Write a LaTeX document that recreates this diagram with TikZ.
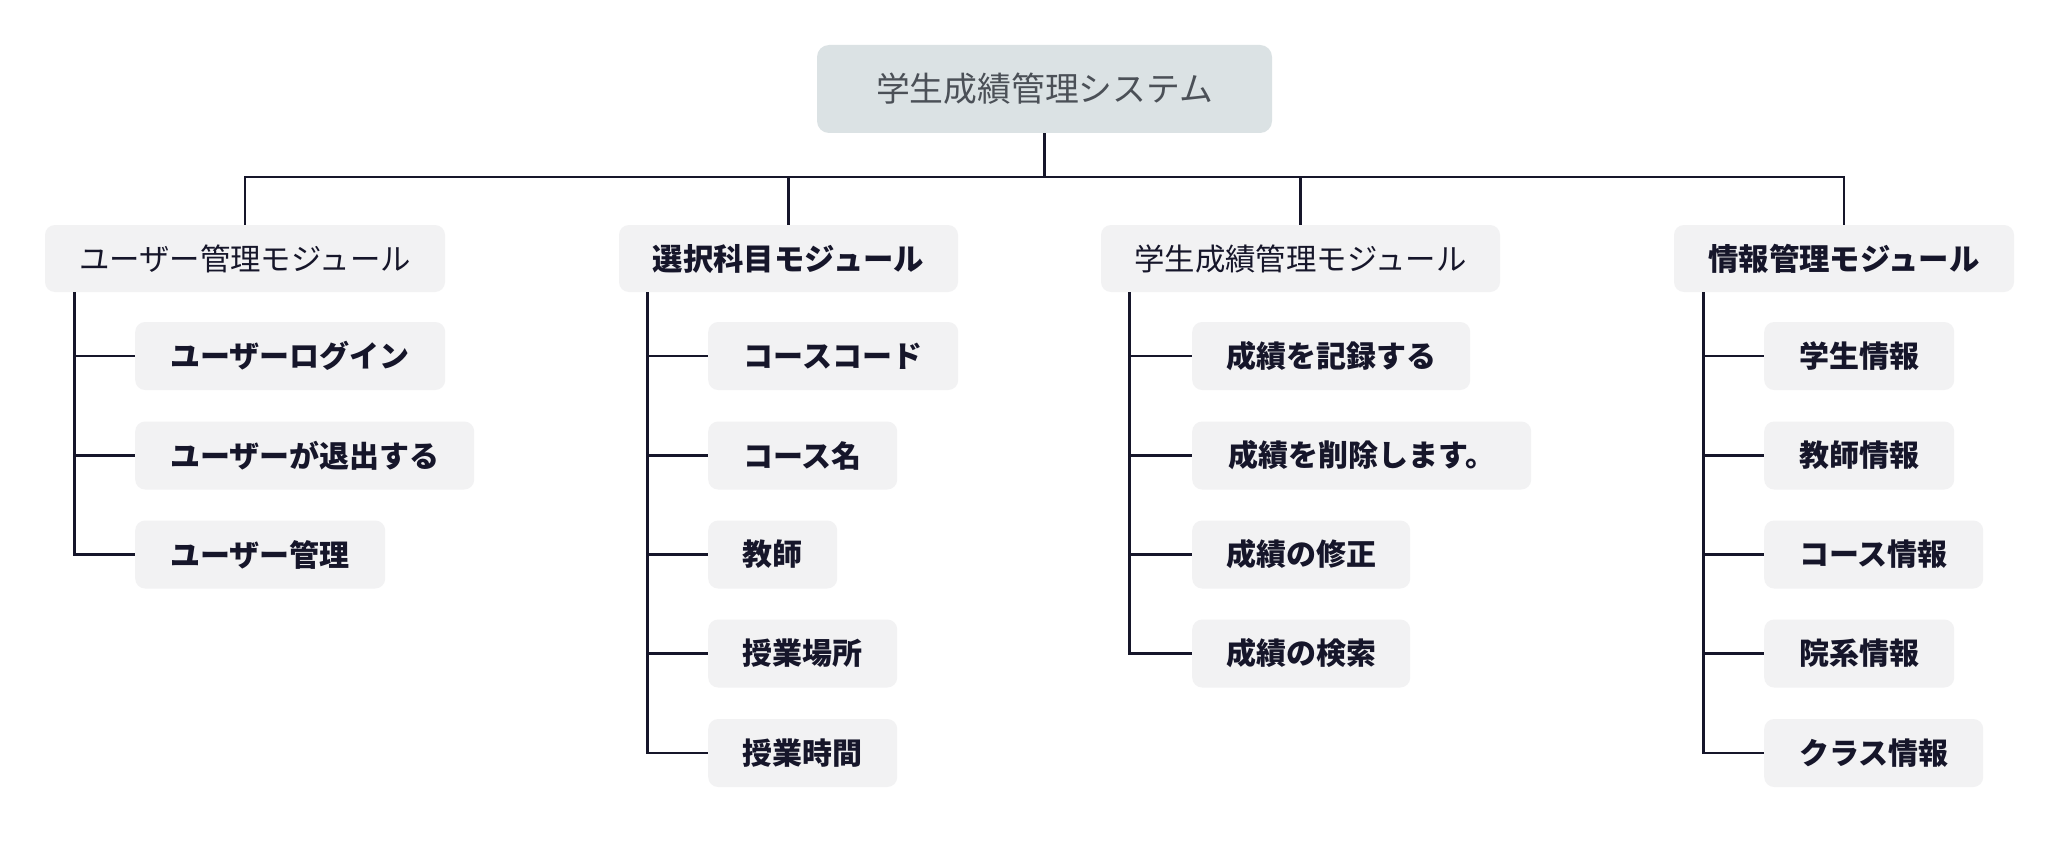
\documentclass[tikz,border=0pt]{standalone}
\usepackage{fontspec}
\setmainfont{Noto Sans CJK JP}
\definecolor{rootfill}{HTML}{DBE2E4}
\definecolor{roottext}{HTML}{4B5057}
\definecolor{boxfill}{HTML}{F2F2F3}
\definecolor{ink}{HTML}{16162A}
\tikzset{
  rootbox/.style={fill=rootfill, text=roottext, rounded corners=12pt, minimum width=455pt, minimum height=88pt, inner sep=0pt, font=\fontsize{33.8}{33.8}\selectfont},
  modbox/.style={fill=boxfill, text=ink, rounded corners=10pt, minimum height=67pt, inner sep=0pt, font=\fontsize{30.4}{30.4}\selectfont},
  modbold/.style={modbox, font=\bfseries\fontsize{30.4}{30.4}\selectfont},
  leafbox/.style={fill=boxfill, text=ink, rounded corners=10pt, minimum height=68pt, inner sep=0pt, anchor=west, font=\bfseries\fontsize{30}{30}\selectfont},
  link/.style={draw=ink, line width=2.8pt},
}
\newcommand{\leafnode}[5]{\node[leafbox, minimum width=#4pt] (#1) at (#2,#3) {#5\hspace{4pt}};}
\begin{document}
\begin{tikzpicture}[x=1pt,y=-1pt]
\useasboundingbox (0,0) rectangle (2060,848);
\fill[white] (0,0) rectangle (2060,848);

\node[rootbox] (r) at (1044.5,89) {学生成績管理システム};

\node[modbox, minimum width=400pt] (m1) at (245,258.5) {ユーザー管理モジュール};
\node[modbold, minimum width=339pt] (m2) at (788.5,258.5) {選択科目モジュール};
\node[modbox, minimum width=399pt] (m3) at (1300.5,258.5) {学生成績管理モジュール};
\node[modbold, minimum width=340pt] (m4) at (1844,258.5) {情報管理モジュール};

\coordinate (bus) at (1044.5,177);
\draw[link] (r.south) -- (bus);
\draw[link] (m1.north) -- (m1.north |- bus) -- (m4.north |- bus) -- (m4.north);
\draw[link] (m2.north) -- (m2.north |- bus);
\draw[link] (m3.north) -- (m3.north |- bus);

% module 1
\leafnode{c11}{135}{356}{310}{ユーザーログイン}
\leafnode{c12}{135}{455.5}{339}{ユーザーが退出する}
\leafnode{c13}{135}{554.5}{250}{ユーザー管理}
% module 2
\leafnode{c21}{708}{356}{250}{コースコード}
\leafnode{c22}{708}{455.5}{189}{コース名}
\leafnode{c23}{708}{554.5}{129}{教師}
\leafnode{c24}{708}{653.5}{189}{授業場所}
\leafnode{c25}{708}{753}{189}{授業時間}
% module 3
\leafnode{c31}{1192}{356}{278}{成績を記録する}
\leafnode{c32}{1192}{455.5}{339}{成績を削除します。}
\leafnode{c33}{1192}{554.5}{218}{成績の修正}
\leafnode{c34}{1192}{653.5}{218}{成績の検索}
% module 4
\leafnode{c41}{1764}{356}{190}{学生情報}
\leafnode{c42}{1764}{455.5}{190}{教師情報}
\leafnode{c43}{1764}{554.5}{219}{コース情報}
\leafnode{c44}{1764}{653.5}{190}{院系情報}
\leafnode{c45}{1764}{753}{219}{クラス情報}

\coordinate (s1) at ([xshift=30pt]m1.south west);
\coordinate (s2) at ([xshift=29pt]m2.south west);
\coordinate (s3) at ([xshift=29pt]m3.south west);
\coordinate (s4) at ([xshift=30pt]m4.south west);

\draw[link] (s1) |- (c13.west);
\draw[link] (s1 |- c11.west) -- (c11.west);
\draw[link] (s1 |- c12.west) -- (c12.west);

\draw[link] (s2) |- (c25.west);
\foreach \c in {c21,c22,c23,c24} \draw[link] (s2 |- \c.west) -- (\c.west);

\draw[link] (s3) |- (c34.west);
\foreach \c in {c31,c32,c33} \draw[link] (s3 |- \c.west) -- (\c.west);

\draw[link] (s4) |- (c45.west);
\foreach \c in {c41,c42,c43,c44} \draw[link] (s4 |- \c.west) -- (\c.west);
\end{tikzpicture}
\end{document}
